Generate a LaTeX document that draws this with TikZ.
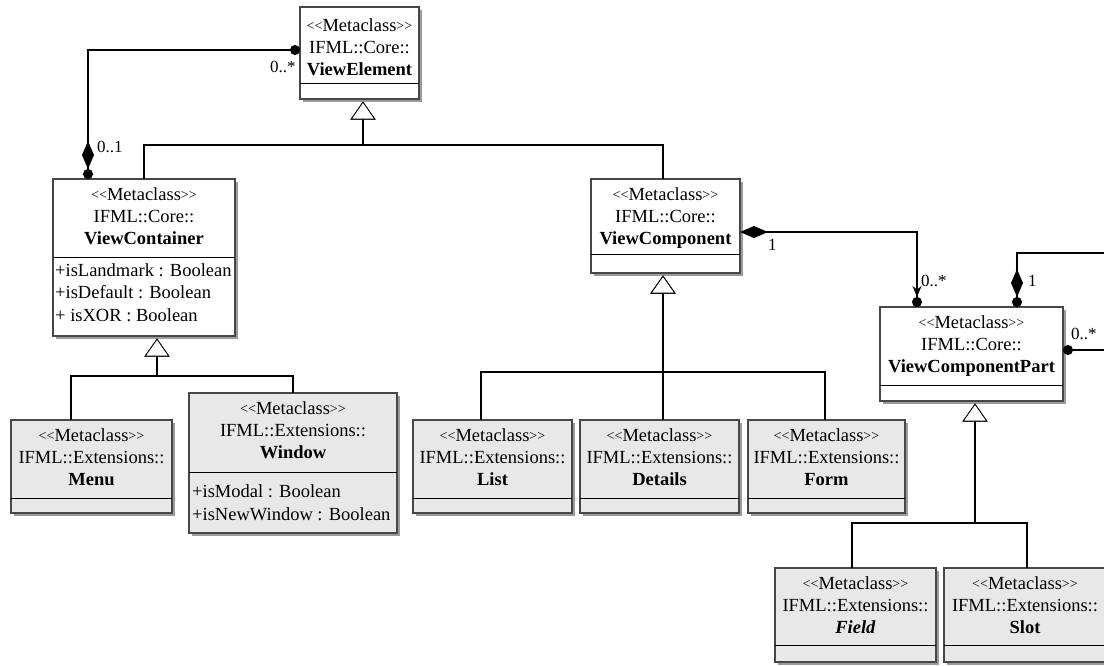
\documentclass[tikz,border=0pt]{standalone}
\usepackage{fontspec}
\setmainfont{Liberation Serif}
\usetikzlibrary{arrows.meta,shadows}
\tikzset{
  cls/.style={draw=black!72, line width=1.2pt, inner sep=0pt, outer sep=0pt, anchor=north west,
    drop shadow={shadow xshift=2.5pt, shadow yshift=-2.5pt, fill=black!65, opacity=0.6}},
  core/.style={cls, fill=white},
  ext/.style={cls, fill=black!9},
  txt/.style={font=\fontsize{18.5}{22}\selectfont, inner sep=0pt, anchor=base},
  attr/.style={txt, anchor=base west},
  sepline/.style={line width=1pt, black},
  conn/.style={line width=1.5pt, black},
  mult/.style={font=\fontsize{17}{20}\selectfont, inner sep=0pt, anchor=base west},
  gen/.style={conn, shorten >=2.5pt, -{Triangle[open, length=18pt, width=25pt, fill=white, line width=0.8pt]}},
}
\newcommand\angl[1]{{\fontsize{14}{14}\selectfont\raisebox{0.6pt}{#1\kern0pt#1}}}
\def\tshift{0}
\newcommand\umlclass[9]{%
  \node[#7, minimum width={#4pt-#2pt}, minimum height={#5pt-#3pt}] (#1) at (#2,#3) {};
  \draw[sepline] (#2,#6) -- (#4,#6);
  \node[txt] (#1-st) at ({(#2+#4)/2},#3+21+\tshift) {\angl{<}Metaclass\angl{>}};
  \node[txt] (#1-pk) at ({(#2+#4)/2},#3+43+\tshift) {IFML::#8::};
  \node[txt] (#1-nm) at ({(#2+#4)/2},#3+65+\tshift) {\textbf{#9}};
}
\begin{document}
\begin{tikzpicture}[x=1pt,y=-1pt]
\useasboundingbox (0,0) rectangle (1104,665);
\clip (0,0) rectangle (1104,665);

% classes
\def\tshift{3}
\umlclass{ve}{300}{7}{419}{99}{83}{core}{Core}{ViewElement}
\def\tshift{0}
\umlclass{vc}{53}{179}{235}{336}{257}{core}{Core}{ViewContainer}
\umlclass{vcomp}{591}{179}{740}{273}{254}{core}{Core}{ViewComponent}
\umlclass{vcp}{880}{307}{1063}{401}{385}{core}{Core}{ViewComponentPart}
\umlclass{menu}{11}{420}{172}{513}{498}{ext}{Extensions}{Menu}
\umlclass{win}{189}{393}{397}{533}{472}{ext}{Extensions}{Window}
\umlclass{list}{413}{420}{572}{513}{498}{ext}{Extensions}{List}
\umlclass{det}{580}{420}{739}{513}{498}{ext}{Extensions}{Details}
\umlclass{form}{748}{420}{905}{513}{498}{ext}{Extensions}{Form}
\umlclass{field}{775}{568}{936}{662}{645}{ext}{Extensions}{\textit{Field}}
\umlclass{slot}{944}{568}{1106}{662}{645}{ext}{Extensions}{Slot}

% attributes
\node[attr] (vc-a1) at (55,276) {+isLandmark : Boolean};
\node[attr] (vc-a2) at (55,298) {+isDefault : Boolean};
\node[attr] (vc-a3) at (55,321) {+ isXOR : Boolean};
\node[attr] (win-a1) at (192,497) {+isModal : Boolean};
\node[attr] (win-a2) at (192,520) {+isNewWindow : Boolean};

% generalizations
\coordinate (j1) at (363,145);
\coordinate (j1b) at (663,145);
\draw[gen] (vc.north) |- (j1) -- (j1 |- ve.south);
\draw[gen] (j1b |- vcomp.north) -- (j1b) -- (j1) -- (j1 |- ve.south);

\coordinate (j2) at (157,376);
\coordinate (m1) at (71,376);
\draw[gen] (m1 |- menu.north) -- (m1) -- (j2) -- (j2 |- vc.south);
\draw[gen] (win.north) |- (j2) -- (j2 |- vc.south);

\coordinate (j3) at (663,372);
\coordinate (l1) at (481,372);
\coordinate (f1) at (825,372);
\draw[gen] (l1 |- list.north) -- (l1) -- (j3) -- (j3 |- vcomp.south);
\draw[gen] (f1 |- form.north) -- (f1) -- (j3) -- (j3 |- vcomp.south);
\draw[gen] (j3 |- det.north) -- (j3 |- vcomp.south);

\coordinate (j4) at (975,523);
\coordinate (fd1) at (852,523);
\coordinate (sl1) at (1027,523);
\draw[gen] (fd1 |- field.north) -- (fd1) -- (j4) -- (j4 |- vcp.south);
\draw[gen] (sl1 |- slot.north) -- (sl1) -- (j4) -- (j4 |- vcp.south);

% compositions
\coordinate (c1) at (88,50);
\draw[conn, {Circle[length=10pt]}-{Diamond[length=28pt,width=12pt] Circle[length=10pt]}]
  (ve.west |- c1) -- (c1) -- (c1 |- vc.north);
\node[mult] (m-ve) at (270,72) {0..*};
\node[mult] (m-vc) at (97,152) {0..1};

\coordinate (c2) at (917,232);
\draw[conn, {Diamond[length=28pt,width=12pt]}-{Stealth[length=11pt,width=9pt] Circle[length=10pt]}]
  (vcomp.east |- c2) -- (c2) -- (c2 |- vcp.north);
\node[mult] (m-vcomp) at (768,250) {1};
\node[mult] (m-vcp) at (921,286) {0..*};

\coordinate (c3) at (1017,253);
\coordinate (c4) at (1125,253);
\coordinate (c5) at (1125,350);
\draw[conn, {Circle[length=10pt] Diamond[length=28pt,width=12pt]}-{Circle[length=10pt]}]
  (c3 |- vcp.north) -- (c3) -- (c4) -- (c5) -- (vcp.east |- c5);
\node[mult] (m-self1) at (1028,286) {1};
\node[mult] (m-self2) at (1071,339) {0..*};
\end{tikzpicture}
\end{document}
